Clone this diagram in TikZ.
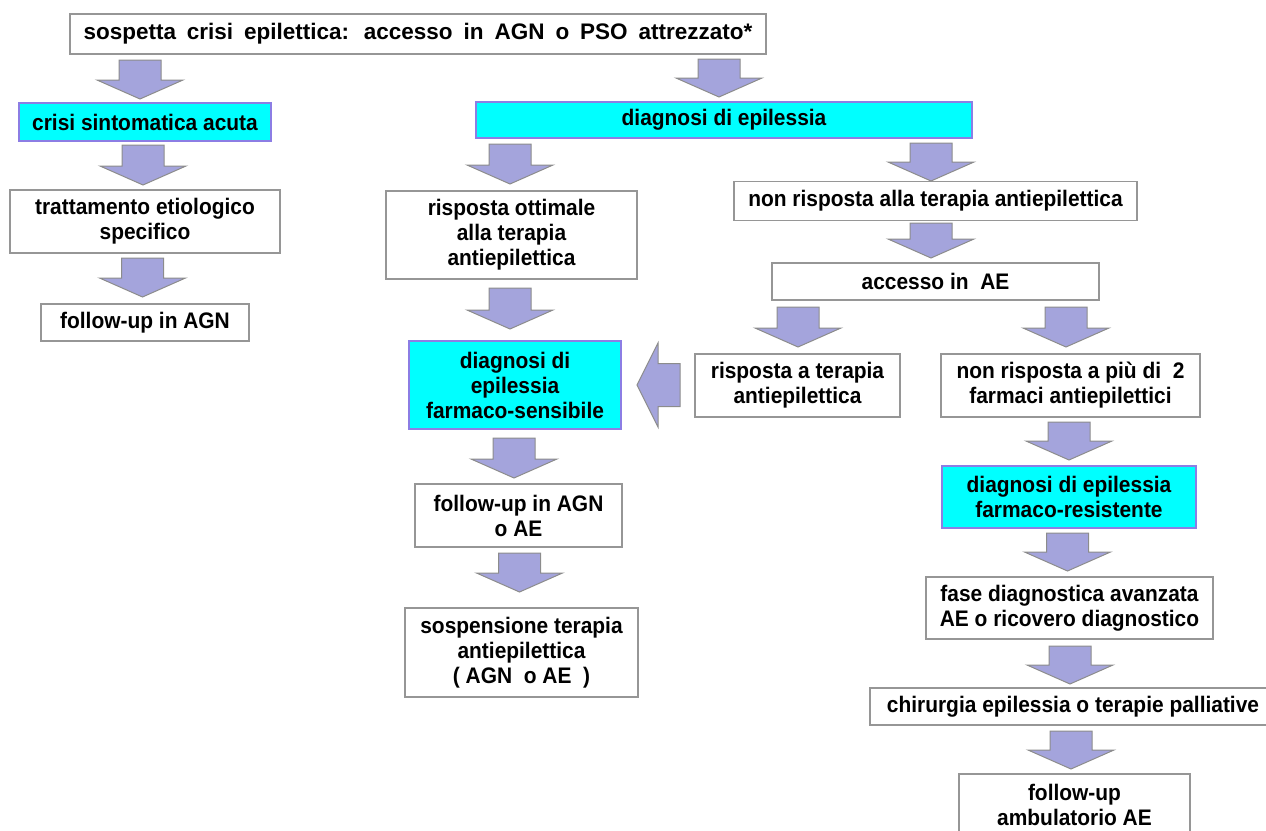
\documentclass[tikz,border=0pt]{standalone}
\usepackage{fontspec}
\setmainfont{Liberation Sans}[FakeStretch=0.93]
\newfontfamily\headfont{Liberation Sans}
\definecolor{boxgray}{RGB}{150,150,150}
\definecolor{cyanfill}{RGB}{0,255,255}
\definecolor{cyanedge}{RGB}{140,125,228}
\definecolor{arrowfill}{RGB}{164,164,220}
\definecolor{arrowedge}{RGB}{140,140,140}
\begin{document}
\begin{tikzpicture}[x=1pt,y=-1pt,
  every node/.style={font=\fontsize{22.5}{25}\selectfont\bfseries, align=center, inner sep=0pt},
  wh/.style 2 args={minimum width=#1, minimum height=#2},
  wbox/.style={draw=boxgray, line width=1.6pt, fill=white},
  cbox/.style={draw=cyanedge, line width=1.8pt, fill=cyanfill},
  blockarrow/.style={fill=arrowfill, draw=arrowedge, line width=1pt, line join=miter},
  pics/downarr/.style={code={
    \path[blockarrow] (-21,0) -- (21,0) -- (21,#1-19) -- (43,#1-19) -- (0,#1)
      -- (-43,#1-19) -- (-21,#1-19) -- cycle;}},
  pics/leftarr/.style={code={
    \path[blockarrow] (#1,-21.5) -- (21,-21.5) -- (21,-42) -- (0,0) -- (21,42)
      -- (21,21.5) -- (#1,21.5) -- cycle;}},
]
\useasboundingbox (0,0) rectangle (1266,830);

% boxes
\node[wbox, wh={696}{40}] (top) at (418,34)
  {\headfont\bfseries\makebox[669pt][s]{sospetta crisi epilettica:\ \,accesso in AGN o PSO attrezzato*}};

\node[cbox, wh={252}{38}] (crisi) at (145,122) {crisi sintomatica acuta};
\node[wbox, wh={270}{63}] (tratt) at (145,221.5) {trattamento etiologico\\specifico};
\node[wbox, wh={208}{37}] (fuagn) at (145,322.5) {follow-up in AGN};

\node[cbox, wh={496}{36}] (diag) at (724,120) {diagnosi di epilessia};
\node[wbox, wh={251}{88}] (rott) at (511.5,235) {risposta ottimale\\alla terapia\\antiepilettica};
\node[cbox, wh={212}{88}] (fsens) at (515,385) {diagnosi di\\epilessia\\farmaco-sensibile};
\node[wbox, wh={207}{63}] (fuae) at (518.5,515.5) {follow-up in AGN\\o AE};
\node[wbox, wh={233}{89}] (sosp) at (521.5,652.5) {sospensione terapia\\antiepilettica\\(\ AGN\ \ o AE\ \ )};

\node[wbox, wh={403}{39}] (nonr) at (935.5,201) {non risposta alla terapia antiepilettica};
\node[wbox, wh={327}{37}] (acc) at (935.5,281.5) {accesso in\ \ AE};
\node[wbox, wh={205}{63}] (rterap) at (797.5,385.5) {risposta a terapia\\antiepilettica};
\node[wbox, wh={259}{63}] (nonpiu) at (1070.5,385.5) {non risposta a più di\ \ 2\\farmaci antiepilettici};
\node[cbox, wh={254}{62}] (fres) at (1069,497) {diagnosi di epilessia\\farmaco-resistente};
\node[wbox, wh={287}{62}] (fase) at (1069.5,608) {fase diagnostica avanzata\\AE o ricovero diagnostico};
\node[wbox, wh={406}{37}] (chir) at (1073,706.5) {chirurgia epilessia o terapie palliative};
\node[wbox, wh={231}{62}] (fuamb) at (1074.5,805) {follow-up\\ambulatorio AE};

% block arrows
\pic at (140,60) {downarr=39};
\pic at (143,145) {downarr=40};
\pic at (142.5,258) {downarr=39};
\pic at (719,59) {downarr=38};
\pic at (510,144) {downarr=40};
\pic at (931,143) {downarr=38};
\pic at (931,223) {downarr=35};
\pic at (798,307) {downarr=40};
\pic at (1066,307) {downarr=40};
\pic at (510,288) {downarr=41};
\pic at (637,385) {leftarr=43};
\pic at (514,438) {downarr=40};
\pic at (519.5,553) {downarr=39};
\pic at (1069,422) {downarr=38};
\pic at (1067.5,533) {downarr=38};
\pic at (1070,646) {downarr=38};
\pic at (1071,731) {downarr=38};
\end{tikzpicture}
\end{document}
